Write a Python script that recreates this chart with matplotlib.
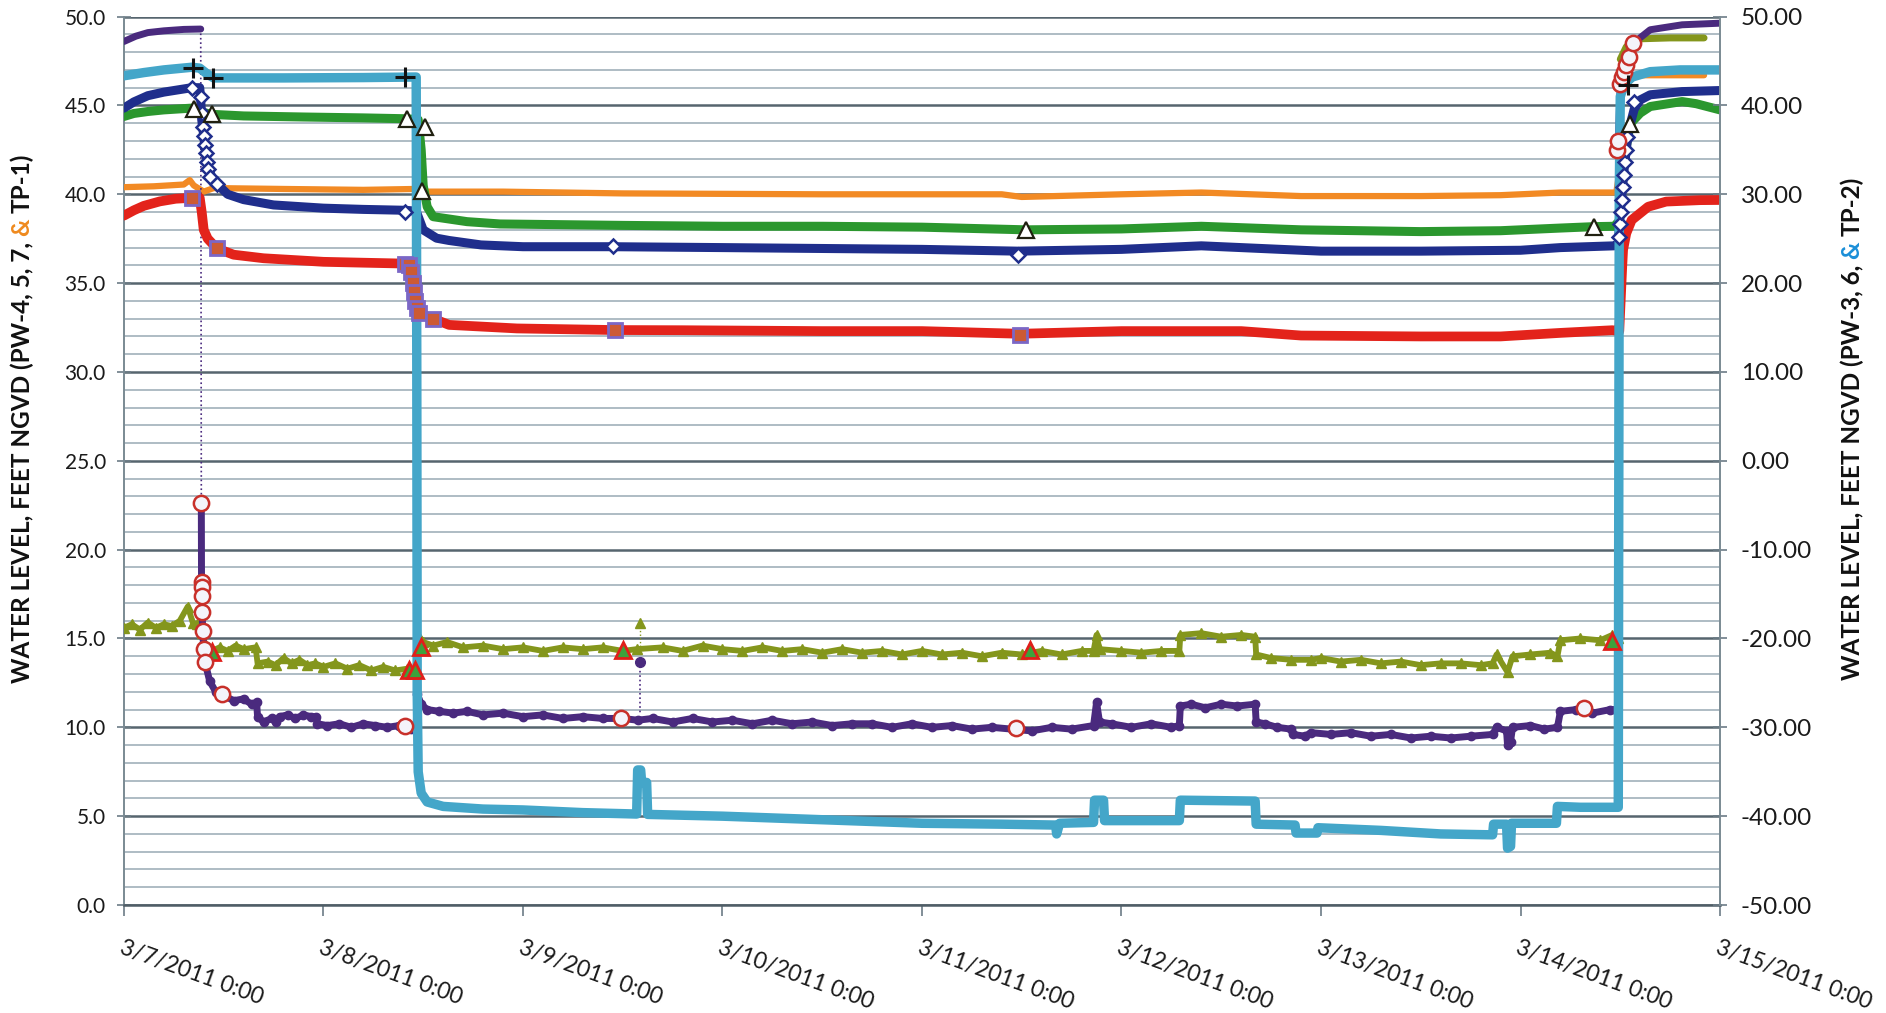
import matplotlib
matplotlib.use("Agg")
import matplotlib.pyplot as plt
import numpy as np

plt.rcParams['font.family'] = ['Lato', 'DejaVu Sans']

# time axis: days after 3/7/2011 0:00
day_ticks = [0, 1, 2, 3, 4, 5, 6, 7, 8]
day_labels = ['3/7/2011 0:00', '3/8/2011 0:00', '3/9/2011 0:00', '3/10/2011 0:00',
              '3/11/2011 0:00', '3/12/2011 0:00', '3/13/2011 0:00', '3/14/2011 0:00',
              '3/15/2011 0:00']

left_ticks = [0, 5, 10, 15, 20, 25, 30, 35, 40, 45, 50]
right_ticks = [-50, -40, -30, -20, -10, 0, 10, 20, 30, 40, 50]

# ---- cyan (+ markers)
cyan_t = [0.0, 0.1, 0.2, 0.34, 0.38, 0.42, 0.45, 0.8, 1.2, 1.465, 1.468, 1.47, 1.475, 1.49,
          1.52, 1.6, 1.8, 2.0, 2.3, 2.57, 2.575, 2.59, 2.595, 2.62, 2.625, 3.0, 3.5, 4.0,
          4.4, 4.67, 4.675, 4.69, 4.86, 4.865, 4.91, 4.915, 5.29, 5.295, 5.67, 5.675, 5.87,
          5.875, 5.98, 5.985, 6.3, 6.6, 6.86, 6.865, 6.93, 6.935, 6.95, 6.955, 7.18, 7.185,
          7.3, 7.49, 7.492, 7.495, 7.5, 7.52, 7.56, 7.65, 7.8, 8.0]
cyan_v = [46.67, 46.85, 47.0, 47.15, 47.1, 46.75, 46.55, 46.55, 46.57, 46.6, 30.0, 12.0, 7.5,
          6.3, 5.8, 5.55, 5.4, 5.35, 5.2, 5.12, 7.6, 7.6, 6.9, 6.9, 5.1, 5.0, 4.8, 4.6,
          4.55, 4.5, 4.0, 4.6, 4.65, 5.9, 5.9, 4.75, 4.75, 5.9, 5.85, 4.55, 4.5,
          4.05, 4.05, 4.35, 4.2, 4.0, 3.95, 4.55, 4.55, 3.2, 3.3, 4.6, 4.6, 5.55,
          5.5, 5.5, 20.0, 40.0, 45.5, 46.2, 46.6, 46.9, 47.0, 47.0]
cyan_mark_t = [0.345, 0.448, 1.41, 7.54]
cyan_mark_v = [47.1, 46.54, 46.6, 46.16]

# ---- navy (white diamonds)
navy_t = [0.0, 0.05, 0.12, 0.2, 0.34, 0.38, 0.385, 0.39, 0.4, 0.41, 0.42, 0.44, 0.465, 0.52,
          0.6, 0.75, 1.0, 1.2, 1.41, 1.465, 1.48, 1.5, 1.567, 1.63, 1.79, 2.0, 2.45, 3.0,
          3.5, 4.0, 4.48, 5.0, 5.4, 5.7, 6.0, 6.5, 7.0, 7.2, 7.47, 7.49, 7.5, 7.52, 7.54,
          7.57, 7.6, 7.65, 7.81, 8.0]
navy_v = [44.85, 45.2, 45.55, 45.75, 46.0, 46.0, 45.3, 44.2, 43.3, 42.3, 41.5, 41.0, 40.6,
          40.0, 39.7, 39.4, 39.22, 39.15, 39.1, 39.05, 38.6, 38.0, 37.53, 37.4, 37.15,
          37.05, 37.05, 37.0, 36.95, 36.9, 36.8, 36.9, 37.1, 36.95, 36.8, 36.8, 36.85,
          37.0, 37.1, 37.2, 39.0, 41.5, 43.5, 44.8, 45.31, 45.6, 45.78, 45.84]
navy_mark_t = [0.34, 0.386, 0.39, 0.395, 0.4, 0.405, 0.41, 0.415, 0.42, 0.43, 0.465, 1.41,
               2.45, 4.48, 7.495, 7.5, 7.505, 7.51, 7.515, 7.52, 7.525, 7.53, 7.535, 7.57]
navy_mark_v = [46.0, 45.5, 44.6, 43.8, 43.3, 42.8, 42.3, 41.8, 41.4, 41.0, 40.6, 39.0,
               37.1, 36.6, 37.6, 38.3, 39.0, 39.7, 40.4, 41.1, 41.8, 42.5, 43.2, 45.2]

# ---- green (white triangles)
green_t = [0.0, 0.05, 0.12, 0.2, 0.34, 0.38, 0.4, 0.44, 0.6, 0.9, 1.2, 1.42, 1.475, 1.49,
           1.5, 1.52, 1.55, 1.72, 1.885, 2.5, 3.0, 3.5, 4.0, 4.52, 5.0, 5.4, 5.9, 6.5, 6.9,
           7.2, 7.37, 7.47, 7.495, 7.52, 7.55, 7.6, 7.65, 7.81, 7.88, 8.0]
green_v = [44.38, 44.55, 44.66, 44.75, 44.85, 44.8, 44.6, 44.5, 44.41, 44.35, 44.3, 44.25,
           44.2, 42.5, 40.5, 39.3, 38.74, 38.46, 38.33, 38.25, 38.2, 38.2, 38.15, 38.0,
           38.05, 38.2, 38.0, 37.9, 37.95, 38.1, 38.18, 38.2, 38.5, 42.0, 43.97, 44.57,
           44.94, 45.22, 45.1, 44.75]
green_mark_t = [0.35, 0.44, 1.42, 1.495, 1.51, 4.52, 7.37, 7.55]
green_mark_v = [44.8, 44.5, 44.25, 40.2, 43.76, 38.0, 38.18, 43.97]

# ---- orange
orange_t = [0.0, 0.15, 0.3, 0.33, 0.35, 0.4, 0.45, 0.8, 1.2, 1.46, 1.5, 1.9, 2.5, 3.5, 4.4,
            4.5, 5.0, 5.4, 5.9, 6.5, 6.9, 7.2, 7.48, 7.492, 7.5, 7.56, 7.6, 7.92]
orange_v = [40.4, 40.45, 40.55, 40.8, 40.5, 40.15, 40.35, 40.3, 40.25, 40.3, 40.15, 40.15,
            40.05, 40.0, 40.0, 39.85, 40.0, 40.1, 39.9, 39.9, 39.95, 40.1, 40.1, 41.0,
            45.5, 46.6, 46.7, 46.7]

# ---- red (squares)
red_t = [0.0, 0.05, 0.1, 0.18, 0.26, 0.34, 0.38, 0.39, 0.4, 0.42, 0.465, 0.55, 0.7, 1.0,
         1.2, 1.41, 1.44, 1.46, 1.48, 1.5, 1.55, 1.63, 1.97, 2.46, 2.8, 3.5, 4.0, 4.49,
         5.0, 5.6, 5.9, 6.5, 6.9, 7.2, 7.46, 7.495, 7.51, 7.514, 7.53, 7.557, 7.64, 7.73,
         7.9, 8.0]
red_v = [38.8, 39.1, 39.35, 39.6, 39.75, 39.8, 39.8, 39.0, 38.0, 37.5, 36.96, 36.6, 36.4,
         36.2, 36.15, 36.1, 35.8, 34.5, 33.6, 33.2, 33.0, 32.65, 32.45, 32.36, 32.35,
         32.3, 32.3, 32.15, 32.3, 32.3, 32.05, 32.0, 32.0, 32.2, 32.35, 32.3, 36.0,
         36.87, 37.8, 38.55, 39.3, 39.59, 39.67, 39.68]
red_mark_t = [0.34, 0.465, 1.41, 1.43, 1.44, 1.45, 1.455, 1.46, 1.47, 1.48, 1.55, 2.46, 4.49]
red_mark_v = [39.8, 36.96, 36.1, 36.0, 35.6, 35.0, 34.5, 34.0, 33.6, 33.3, 33.0, 32.36, 32.1]

# ---- olive (red-edged triangles)
olive_t = [0.0, 0.04, 0.08, 0.12, 0.16, 0.2, 0.24, 0.28, 0.32, 0.345, 0.365, 0.39, 0.41,
           0.44, 0.48, 0.52, 0.56, 0.6, 0.66, 0.67, 0.72, 0.76, 0.8, 0.84, 0.88, 0.92,
           0.96, 1.0, 1.06, 1.12, 1.18, 1.24, 1.3, 1.36, 1.42, 1.46, 1.475, 1.5, 1.55,
           1.62, 1.7, 1.8, 1.9, 2.0, 2.1, 2.2, 2.3, 2.4, 2.5, 2.57, 2.7, 2.8, 2.9, 3.0,
           3.1, 3.2, 3.3, 3.4, 3.5, 3.6, 3.7, 3.8, 3.9, 4.0, 4.1, 4.2, 4.3, 4.4, 4.5, 4.6,
           4.7, 4.8, 4.86, 4.875, 4.89, 5.0, 5.1, 5.2, 5.29, 5.295, 5.4, 5.5, 5.6, 5.67,
           5.675, 5.75, 5.85, 5.95, 6.0, 6.1, 6.2, 6.3, 6.4, 6.5, 6.6, 6.7, 6.8, 6.86,
           6.88, 6.935, 6.96, 7.05, 7.15, 7.185, 7.2, 7.3, 7.4, 7.46, 7.49]
olive_v = [15.6, 15.8, 15.5, 15.9, 15.6, 15.8, 15.7, 16.0, 16.8, 15.9, 15.8, 15.3, 14.6,
           14.3, 14.5, 14.3, 14.6, 14.4, 14.5, 13.6, 13.7, 13.5, 13.9, 13.6, 13.8, 13.5,
           13.6, 13.4, 13.6, 13.3, 13.5, 13.2, 13.4, 13.2, 13.3, 13.2, 15.2, 14.8, 14.6,
           14.8, 14.5, 14.6, 14.4, 14.5, 14.3, 14.5, 14.4, 14.5, 14.3, 14.4, 14.5, 14.3,
           14.6, 14.4, 14.3, 14.5, 14.3, 14.4, 14.2, 14.4, 14.2, 14.3, 14.1, 14.3, 14.1,
           14.2, 14.0, 14.2, 14.1, 14.3, 14.1, 14.3, 14.3, 15.2, 14.4, 14.3, 14.2, 14.3,
           14.3, 15.2, 15.3, 15.1, 15.2, 15.1, 14.1, 13.9, 13.8, 13.8, 13.9, 13.7, 13.8,
           13.6, 13.7, 13.5, 13.6, 13.6, 13.5, 13.6, 14.1, 13.1, 14.0, 14.1, 14.2, 14.0,
           14.9, 15.0, 14.9, 15.2, 15.0]
olive_rec_t = [7.5, 7.53, 7.56, 7.6, 7.75, 7.92]
olive_rec_v = [47.6, 48.3, 48.6, 48.75, 48.8, 48.8]
olive_spike_t = [2.585, 2.585]
olive_spike_v = [15.9, 14.4]
olive_mark_t = [0.44, 1.43, 1.46, 1.49, 2.5, 4.54, 7.46]
olive_mark_v = [14.24, 13.25, 13.25, 14.5, 14.34, 14.34, 14.84]

# ---- purple (red-edged circles)
purple_pre_t = [0.0, 0.06, 0.12, 0.2, 0.3, 0.385]
purple_pre_v = [48.6, 48.9, 49.1, 49.2, 49.28, 49.3]
purple_t = [0.388, 0.389, 0.39, 0.392, 0.395, 0.4, 0.41, 0.43, 0.46, 0.5, 0.55, 0.6, 0.64,
            0.665, 0.67, 0.7, 0.74, 0.76, 0.78, 0.82, 0.86, 0.9, 0.94, 0.965, 0.97, 1.02,
            1.08, 1.14, 1.2, 1.26, 1.32, 1.38, 1.44, 1.465, 1.47, 1.49, 1.52, 1.58, 1.65,
            1.72, 1.8, 1.9, 2.0, 2.1, 2.2, 2.3, 2.4, 2.5, 2.575, 2.65, 2.75, 2.85, 2.95,
            3.05, 3.15, 3.25, 3.35, 3.45, 3.55, 3.65, 3.75, 3.85, 3.95, 4.05, 4.15, 4.25,
            4.35, 4.45, 4.55, 4.65, 4.75, 4.86, 4.875, 4.89, 4.95, 5.05, 5.15, 5.25, 5.29,
            5.295, 5.35, 5.42, 5.5, 5.58, 5.67, 5.675, 5.72, 5.78, 5.85, 5.86, 5.92, 5.95,
            6.05, 6.15, 6.25, 6.35, 6.45, 6.55, 6.65, 6.75, 6.86, 6.88, 6.93, 6.935, 6.95,
            6.96, 7.05, 7.12, 7.185, 7.2, 7.28, 7.36, 7.45, 7.48]
purple_v = [22.6, 18.2, 17.4, 16.5, 15.4, 14.4, 13.5, 12.6, 12.0, 11.8, 11.5, 11.6, 11.3,
            11.4, 10.6, 10.3, 10.5, 10.3, 10.6, 10.7, 10.5, 10.7, 10.6, 10.6, 10.2, 10.1,
            10.2, 10.0, 10.2, 10.1, 10.0, 10.1, 9.9, 10.0, 11.9, 11.3, 11.0, 10.9, 10.8,
            10.9, 10.7, 10.8, 10.6, 10.7, 10.5, 10.6, 10.5, 10.5, 10.4, 10.5, 10.3, 10.5,
            10.3, 10.4, 10.2, 10.4, 10.2, 10.3, 10.1, 10.2, 10.2, 10.0, 10.2, 10.0, 10.1,
            9.9, 10.0, 9.9, 9.8, 10.0, 9.9, 10.1, 11.4, 10.3, 10.2, 10.0, 10.2, 10.0, 10.1,
            11.2, 11.3, 11.1, 11.3, 11.2, 11.3, 10.3, 10.2, 10.0, 9.9, 9.6, 9.5, 9.7,
            9.6, 9.7, 9.5, 9.6, 9.4, 9.5, 9.4, 9.5, 9.6, 10.0, 9.8, 9.0, 9.2,
            10.0, 10.1, 9.9, 10.0, 10.9, 11.0, 10.8, 11.0, 11.0]
purple_spike_t = [2.585, 2.585]
purple_spike_v = [13.7, 10.8]
purple_rec_t = [7.482, 7.49, 7.5, 7.51, 7.52, 7.53, 7.545, 7.565, 7.65, 7.81, 8.0]
purple_rec_v = [42.5, 43.0, 46.2, 46.6, 46.9, 47.3, 47.7, 48.5, 49.26, 49.54, 49.63]
purple_mark_t = [0.388, 0.389, 0.39, 0.391, 0.392, 0.395, 0.4, 0.405, 0.49, 1.41, 2.49,
                 4.47, 7.32, 7.482, 7.49, 7.5, 7.51, 7.52, 7.53, 7.545, 7.565]
purple_mark_v = [22.6, 18.2, 17.9, 17.4, 16.5, 15.4, 14.4, 13.7, 11.9, 10.07, 10.5,
                 9.96, 11.1, 42.5, 43.0, 46.2, 46.6, 46.9, 47.3, 47.7, 48.5]

C_PURPLE = '#4a2a7e'
C_CYAN = '#44a6c9'
C_NAVY = '#1f2e8c'
C_GREEN = '#2b972e'
C_ORANGE = '#f28a24'
C_RED = '#e3231b'
C_OLIVE = '#84961c'

fig = plt.figure(figsize=(18.86, 10.13), dpi=100)
ax = fig.add_axes([0.0657, 0.1066, 0.8463, 0.877])

line_kw = dict(solid_capstyle='round', solid_joinstyle='round')

ax.plot(orange_t, orange_v, color=C_ORANGE, lw=4.5, zorder=3, **line_kw)
ax.plot(olive_t, olive_v, color=C_OLIVE, lw=4.2, marker='^', ms=7, mec=C_OLIVE,
        zorder=3.2, **line_kw)
ax.plot(olive_spike_t, olive_spike_v, color=C_OLIVE, lw=1, ls=':', marker='^', ms=7,
        markevery=[0], zorder=3.2)
ax.plot([olive_t[-1], olive_rec_t[0]], [olive_v[-1], olive_rec_v[0]], color=C_OLIVE,
        lw=1, ls=':', zorder=3.2)
ax.plot(olive_rec_t, olive_rec_v, color=C_OLIVE, lw=5, zorder=3.2, **line_kw)

ax.plot(purple_pre_t, purple_pre_v, color=C_PURPLE, lw=5, zorder=3.4, **line_kw)
ax.plot([purple_pre_t[-1], purple_t[0]], [purple_pre_v[-1], purple_v[0]], color=C_PURPLE,
        lw=1.2, ls=':', zorder=3.4)
ax.plot(purple_t, purple_v, color=C_PURPLE, lw=5, marker='o', ms=6, zorder=3.4, **line_kw)
ax.plot(purple_spike_t, purple_spike_v, color=C_PURPLE, lw=1.2, ls=':', marker='o', ms=7,
        markevery=[0], zorder=3.4)
ax.plot([purple_t[-1], purple_rec_t[0]], [purple_v[-1], purple_rec_v[0]], color=C_PURPLE,
        lw=1.2, ls=':', zorder=3.4)
ax.plot(purple_rec_t, purple_rec_v, color=C_PURPLE, lw=5, zorder=3.4, **line_kw)

ax.plot(red_t, red_v, color=C_RED, lw=7, zorder=3.6, **line_kw)
ax.plot(green_t, green_v, color=C_GREEN, lw=6.5, zorder=3.8, **line_kw)
ax.plot(navy_t, navy_v, color=C_NAVY, lw=6.5, zorder=4, **line_kw)
ax.plot(cyan_t, cyan_v, color=C_CYAN, lw=6.8, zorder=4.2, **line_kw)

# point markers
ax.plot(red_mark_t, red_mark_v, ls='none', marker='s', ms=10, mfc='#cc5a34', mec='#7b67c6',
        mew=2, zorder=6)
ax.plot(navy_mark_t, navy_mark_v, ls='none', marker='D', ms=7.5, mfc='white', mec=C_NAVY,
        mew=1.8, zorder=6)
ax.plot(green_mark_t, green_mark_v, ls='none', marker='^', ms=11, mfc='white', mec='#202010',
        mew=1.6, zorder=6)
ax.plot(cyan_mark_t, cyan_mark_v, ls='none', marker='+', ms=14, color='#111111', mew=2.2,
        zorder=6.5)
ax.plot(olive_mark_t, olive_mark_v, ls='none', marker='^', ms=11, mfc='#3da23c', mec='#e01f1a',
        mew=2, zorder=6)
ax.plot(purple_mark_t, purple_mark_v, ls='none', marker='o', ms=11, mfc='#f4f4fa',
        mec='#c8302a', mew=1.8, zorder=6.2)

# axes, grid
ax.set_xlim(0, 8)
ax.set_ylim(0, 50)
ax.set_xticks(day_ticks)
ax.set_xticklabels(day_labels, rotation=-20, ha='left', va='top', rotation_mode='anchor')
ax.set_yticks(left_ticks)
ax.set_yticklabels(['%.1f' % v for v in left_ticks])
ax.set_yticks(np.arange(0, 51, 1), minor=True)
ax.tick_params(axis='y', which='minor', length=0)
ax.tick_params(axis='y', which='major', direction='inout', length=10, width=1.2,
               color='#6c7c86', labelsize=15, labelcolor='#1a1a1a', pad=8)
ax.tick_params(axis='x', direction='out', length=8, width=1.2, color='#6c7c86',
               labelsize=16.5, labelcolor='#1a1a1a', pad=15)
ax.grid(which='minor', axis='y', color='#a8b6bf', lw=1.3)
ax.grid(which='major', axis='y', color='#56656e', lw=1.8)
ax.set_axisbelow(True)
ax.spines['top'].set_visible(False)
ax.spines['right'].set_visible(False)
ax.spines['left'].set_color('#7a8a93')
ax.spines['left'].set_linewidth(1.4)
ax.spines['bottom'].set_color('#4f5d66')
ax.spines['bottom'].set_linewidth(1.8)

ax2 = ax.twinx()
ax2.set_ylim(-50, 50)
ax2.set_yticks(right_ticks)
ax2.set_yticklabels(['%.2f' % v for v in right_ticks])
ax2.tick_params(axis='y', direction='inout', length=10, width=1.2, color='#6c7c86',
                labelsize=17.5, labelcolor='#1a1a1a', pad=10)
for side in ['top', 'left', 'bottom']:
    ax2.spines[side].set_visible(False)
ax2.spines['right'].set_color('#7a8a93')
ax2.spines['right'].set_linewidth(1.4)


def axis_title(x, yc, text, accent, accent_color, **kw):
    # rotated title with one differently coloured word
    renderer = fig.canvas.get_renderer()

    def length(s):
        t = fig.text(0, 0, s, rotation=90, **kw)
        h = t.get_window_extent(renderer).height
        t.remove()
        return h

    i = text.index(accent)
    head = text[:i].rstrip()
    tail = text[i + len(accent):].lstrip()
    total = length(text)
    amp_start = length(text[:i + len(accent)]) - length(accent)
    tail_start = total - length(tail)
    H = fig.bbox.height
    y0 = yc * H - total / 2
    for s, off, c in [(head, 0, '#111111'), (accent, amp_start, accent_color),
                      (tail, tail_start, '#111111')]:
        fig.text(x, (y0 + off) / H, s, rotation=90, rotation_mode='anchor', ha='left',
                 va='center', color=c, **kw)


axis_title(0.0117, 0.587, 'WATER LEVEL, FEET NGVD (PW-4, 5, 7, & TP-1)', '&', '#ef8a1e',
           fontsize=17.5, fontweight='bold')
axis_title(0.982, 0.577, 'WATER LEVEL, FEET NGVD (PW-3, 6, & TP-2)', '&', '#1b8fd8',
           fontsize=17.5, fontweight='bold')

fig.savefig('out.png', dpi=100)
